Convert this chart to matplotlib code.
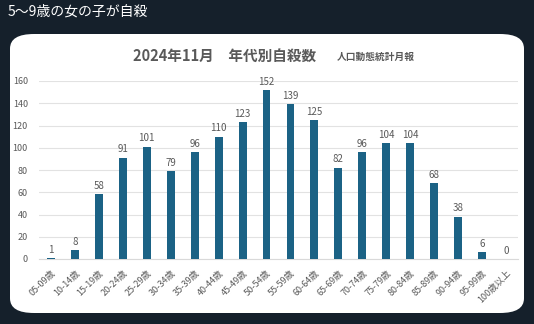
import numpy as np
import matplotlib.pyplot as plt
from matplotlib.patches import FancyBboxPatch

plt.rcParams['font.family'] = ['Noto Sans CJK JP', 'DejaVu Sans']

# data
age_groups = ['05-09歳', '10-14歳', '15-19歳', '20-24歳', '25-29歳', '30-34歳',
              '35-39歳', '40-44歳', '45-49歳', '50-54歳', '55-59歳', '60-64歳',
              '65-69歳', '70-74歳', '75-79歳', '80-84歳', '85-89歳', '90-94歳',
              '95-99歳', '100歳以上']
suicides = [1, 8, 58, 91, 101, 79, 96, 110, 123, 152, 139, 125,
            82, 96, 104, 104, 68, 38, 6, 0]
y_ticks = [0, 20, 40, 60, 80, 100, 120, 140, 160]

bg = '#15202b'
bar_color = '#1b6285'
text_gray = '#595959'

fig = plt.figure(figsize=(5.34, 3.24), dpi=100)
fig.patch.set_facecolor(bg)

# white rounded card
card = FancyBboxPatch((10/534, 1 - 313/324), 514/534, 279/324,
                      boxstyle="round,pad=0,rounding_size=0.045",
                      transform=fig.transFigure, facecolor='white',
                      edgecolor='none', zorder=-5)
fig.patches.append(card)

fig.text(8/534, 1 - 12/324, '5〜9歳の女の子が自殺', color='white',
         fontsize=10, ha='left', va='center')

fig.text(133/534, 1 - 56/324, '2024年11月　年代別自殺数', color=text_gray,
         fontsize=10.5, fontweight='bold', ha='left', va='center')
fig.text(337/534, 1 - 57/324, '人口動態統計月報', color=text_gray,
         fontsize=7, fontweight='bold', ha='left', va='center')

ax = fig.add_axes([39/534, 1 - 259/324, 479/534, 178/324], zorder=2)
ax.set_facecolor('white')
x = np.arange(len(age_groups))
bars = ax.bar(x, suicides, width=0.33, color=bar_color, zorder=3)
for xi, v in zip(x, suicides):
    ax.text(xi, v + 3, str(v), ha='center', va='bottom', fontsize=7,
            color=text_gray)

ax.set_xlim(-0.5, len(age_groups) - 0.5)
ax.set_ylim(0, 160)
ax.set_yticks(y_ticks)
ax.set_yticklabels([str(t) for t in y_ticks], fontsize=6.5, color=text_gray)
ax.set_xticks(x)
ax.set_xticklabels(age_groups, rotation=45, ha='right', rotation_mode='anchor',
                   fontsize=6.5, color=text_gray)
ax.tick_params(axis='x', length=0, pad=7)
ax.tick_params(axis='y', length=0, pad=8)
ax.grid(axis='y', color='#e2e2e2', linewidth=0.8, zorder=0)
for s in ['top', 'right', 'left']:
    ax.spines[s].set_visible(False)
ax.spines['bottom'].set_color('#d9d9d9')

fig.savefig('out.png', dpi=100, facecolor=bg)
